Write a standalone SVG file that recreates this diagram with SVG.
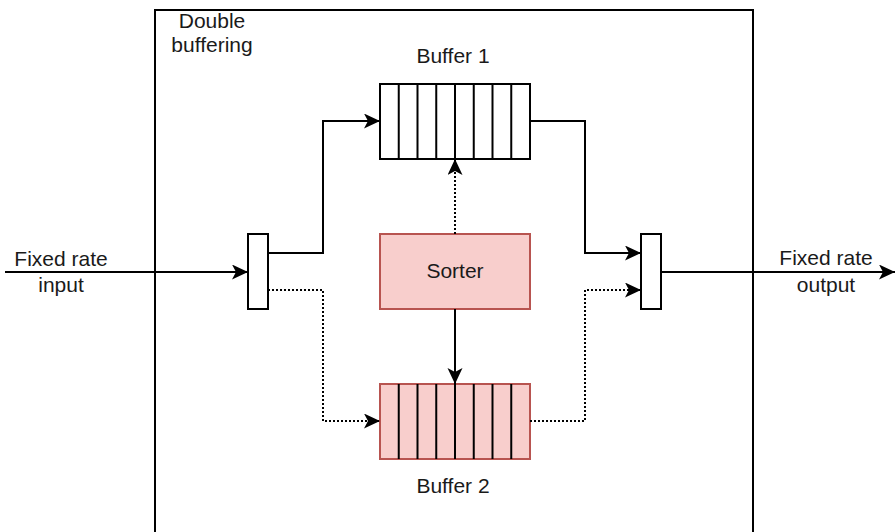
<svg xmlns="http://www.w3.org/2000/svg" width="896" height="532" viewBox="0 0 896 532">
<style>
text{font-family:"Liberation Sans",Arial,sans-serif;font-size:21px;fill:#1a1a1a;text-anchor:middle}
.box{fill:#fff;stroke:#000;stroke-width:2}
.red{fill:#f8cecc;stroke:#b85450;stroke-width:2}
.div{stroke:#000;stroke-width:2}
.c{fill:none;stroke:#000;stroke-width:2}
.dot{stroke-dasharray:2 2}
</style>
<defs>
<marker id="arr" markerUnits="userSpaceOnUse" markerWidth="18" markerHeight="16" refX="16" refY="7.5" orient="auto">
<path d="M0,0 L16,7.5 L0,15 L4,7.5 Z" fill="#000"/>
</marker>
</defs>
<g id="container">
<rect x="155" y="10" width="598" height="540" fill="none" stroke="#000" stroke-width="2"/>
<text x="212" y="28">Double</text>
<text x="212" y="52">buffering</text>
</g>
<g id="buffer1">
<rect class="box" x="380" y="84" width="150" height="75"/>
<path class="div" d="M398.75,84V159M417.5,84V159M436.25,84V159M455,84V159M473.75,84V159M492.5,84V159M511.25,84V159"/>
<text x="453" y="63">Buffer 1</text>
</g>
<g id="buffer2">
<rect class="red" x="380" y="384" width="150" height="75"/>
<path class="div" d="M398.75,384V459M417.5,384V459M436.25,384V459M455,384V459M473.75,384V459M492.5,384V459M511.25,384V459"/>
<text x="453" y="493">Buffer 2</text>
</g>
<g id="sorter">
<rect class="red" x="380" y="234" width="150" height="75"/>
<text x="455" y="278">Sorter</text>
</g>
<g id="demux">
<rect class="box" x="248" y="234" width="20" height="75"/>
</g>
<g id="mux">
<rect class="box" x="641" y="234" width="20" height="75"/>
</g>
<g id="input-label">
<text x="61" y="266">Fixed rate</text>
<text x="61" y="292">input</text>
</g>
<g id="output-label">
<text x="826" y="265">Fixed rate</text>
<text x="826" y="292">output</text>
</g>
<g id="connectors">
<path class="c" d="M5,272H248" marker-end="url(#arr)"/>
<path class="c" d="M268,253H323V121H380" marker-end="url(#arr)"/>
<path class="c dot" d="M268,290H323V421H380" marker-end="url(#arr)"/>
<path class="c" d="M530,121H585V253H641" marker-end="url(#arr)"/>
<path class="c dot" d="M530,421H585V290H641" marker-end="url(#arr)"/>
<path class="c" d="M661,272H895" marker-end="url(#arr)"/>
<path class="c dot" d="M455,234V159" marker-end="url(#arr)"/>
<path class="c" d="M455,309V384" marker-end="url(#arr)"/>
</g>
</svg>
